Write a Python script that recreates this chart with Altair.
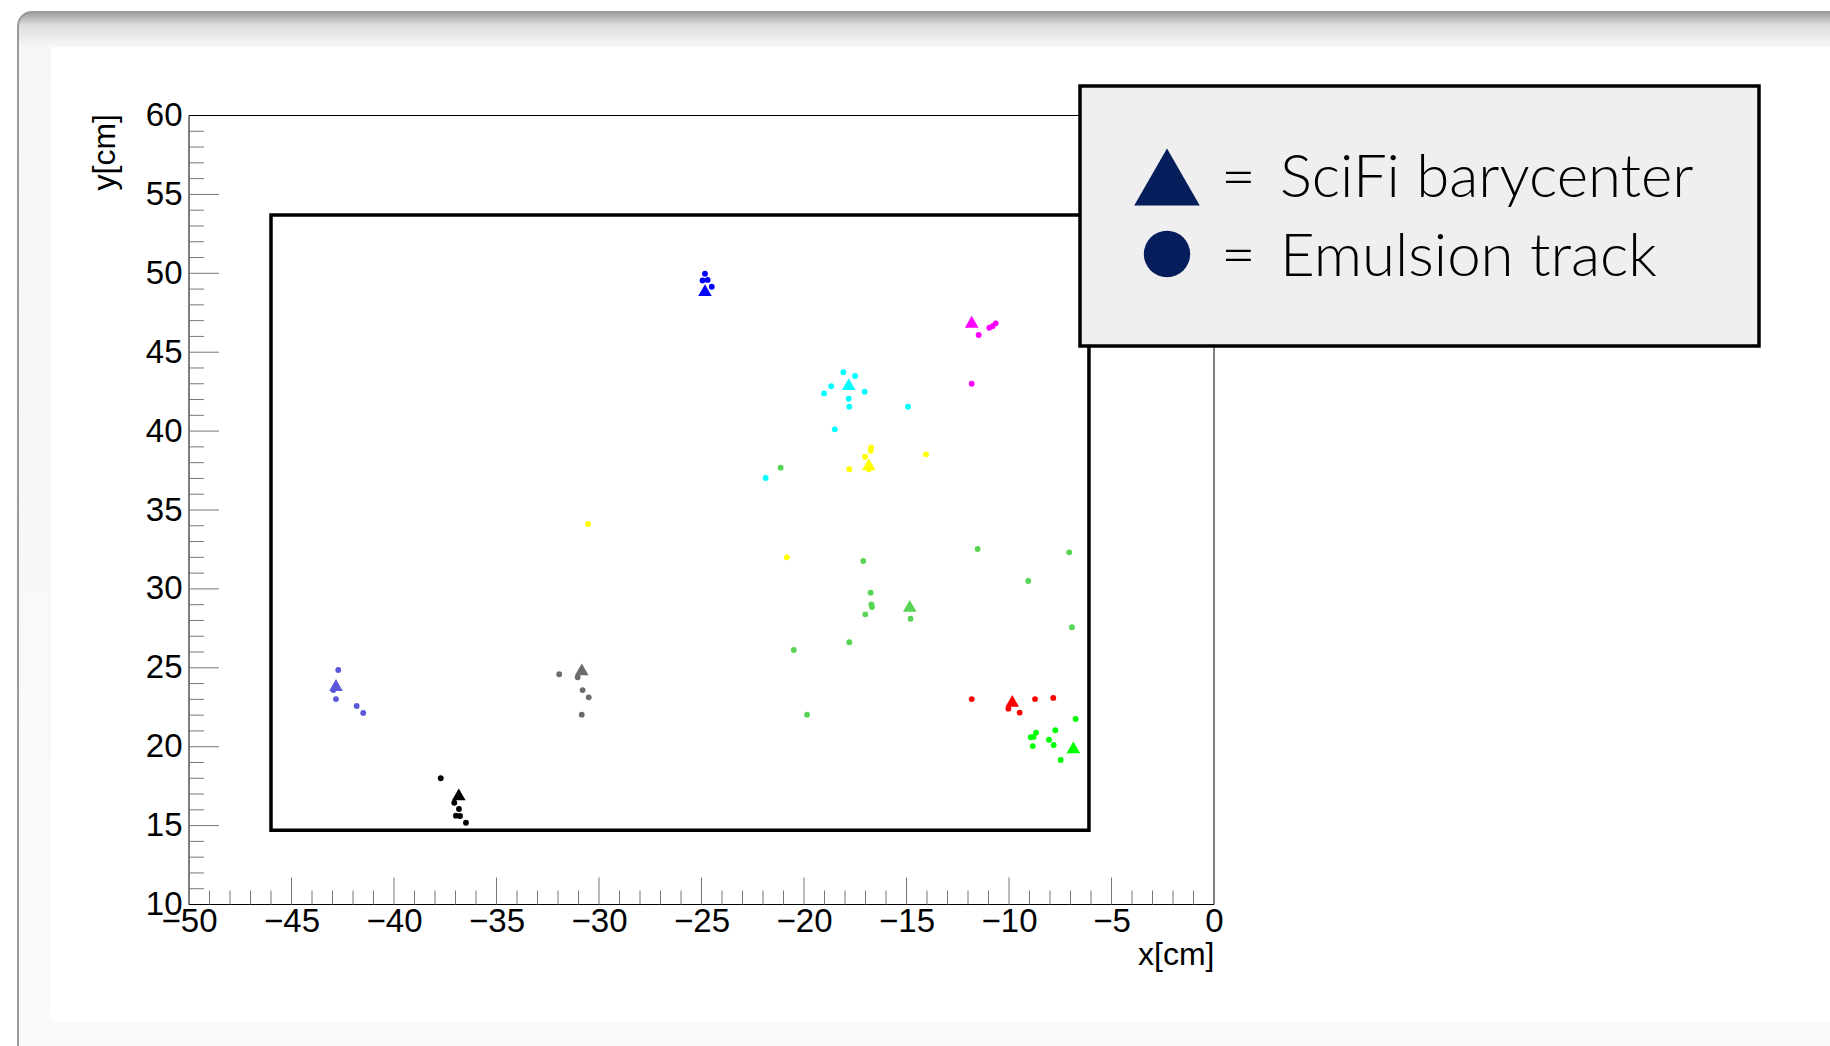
import altair as alt
import pandas as pd

# ---------------- data ----------------
groups = ["slate", "grey", "black", "blue", "magenta", "cyan", "yellow", "green8", "red", "green"]
group_colors = ["#5a58d8", "#6b6b6b", "#000000", "#0000ff", "#ff00ff", "#00ffff",
                "#ffff00", "#58d455", "#ff0000", "#00ff00"]

# SciFi barycenters (triangles)
bary_x = [-42.83, -30.84, -36.84, -24.83, -11.82, -17.82, -16.84, -14.84, -9.84, -6.86]
bary_y = [23.91, 24.90, 16.98, 48.94, 46.93, 42.97, 37.90, 28.92, 22.90, 19.96]

# Emulsion tracks (dots)
track_group = (["slate"] * 5 + ["grey"] * 5 + ["black"] * 6 + ["blue"] * 4 + ["magenta"] * 5
               + ["cyan"] * 10 + ["yellow"] * 8 + ["green8"] * 14 + ["red"] * 5 + ["green"] * 9)
track_x = [-42.72, -42.96, -42.83, -41.82, -41.50,
           -31.94, -31.04, -30.80, -30.50, -30.84,
           -37.72, -37.06, -36.83, -36.98, -36.78, -36.49,
           -24.83, -24.95, -24.70, -24.50,
           -11.48, -10.96, -10.80, -10.65, -11.82,
           -18.08, -17.51, -18.67, -19.02, -17.04, -17.82, -17.79, -14.93, -18.50, -21.87,
           -16.72, -16.75, -17.02, -16.84, -17.79, -14.05, -20.84, -30.53,
           -21.14, -17.11, -11.53, -7.06, -9.06, -16.75, -16.72, -16.68, -17.01, -14.80, -6.93, -17.79, -20.50, -19.85,
           -11.82, -8.73, -7.84, -10.03, -9.48,
           -6.75, -7.74, -8.68, -8.94, -8.80, -8.05, -7.82, -8.84, -7.48]
track_y = [24.86, 23.59, 23.02, 22.58, 22.14,
           24.59, 24.40, 23.59, 23.13, 22.03,
           18.00, 16.45, 16.05, 15.63, 15.61, 15.18,
           49.97, 49.55, 49.58, 49.15,
           46.09, 46.55, 46.65, 46.83, 43.00,
           43.73, 43.49, 42.84, 42.39, 42.50, 42.05, 41.55, 41.55, 40.11, 37.03,
           38.97, 38.76, 38.38, 37.58, 37.58, 38.53, 32.00, 34.11,
           37.68, 31.77, 32.53, 32.32, 30.50, 29.76, 29.02, 28.85, 28.39, 28.11, 27.57, 26.62, 26.13, 22.03,
           23.02, 23.02, 23.09, 22.41, 22.16,
           21.76, 21.04, 20.89, 20.60, 20.62, 20.44, 20.11, 20.04, 19.16]

# Fiducial (black) rectangle
box_x = [-46.0]
box_x2 = [-6.1]
box_y = [14.7]
box_y2 = [53.7]

# Axis ticks
x_major = [-50, -45, -40, -35, -30, -25, -20, -15, -10, -5, 0]
y_major = [10, 15, 20, 25, 30, 35, 40, 45, 50, 55, 60]
x_major_inner = [v for v in x_major if -50 < v < 0]
y_major_inner = [v for v in y_major if 10 < v < 60]
x_minor = [v for v in range(-50, 1) if v % 5 != 0]
y_minor = [v for v in range(10, 61) if v % 5 != 0]

legend_labels = ["SciFi barycenter", "Emulsion track"]

# ---------------- layout ----------------
W, H = 1025, 789
PAD_L, PAD_T = 189, 115.5
FONT = "Liberation Sans"
LEG_FONT = "Lato, Liberation Sans, sans-serif"

xs = alt.Scale(domain=[-50, 0], nice=False, zero=False)
ys = alt.Scale(domain=[10, 60], nice=False, zero=False)
cs = alt.Scale(domain=groups, range=group_colors)

one = pd.DataFrame({"k": [0]})

bary_df = pd.DataFrame({"x": bary_x, "y": bary_y, "group": groups})
track_df = pd.DataFrame({"x": track_x, "y": track_y, "group": track_group})
box_df = pd.DataFrame({"x": box_x, "x2": box_x2, "y": box_y, "y2": box_y2})
frame_df = pd.DataFrame({"x": [-50], "x2": [0], "y": [10], "y2": [60]})

# background window frame
outer = alt.Chart(one).mark_rect(
    fill=alt.Gradient(gradient="linear", x1=0, x2=0, y1=0, y2=1,
                      stops=[alt.GradientStop(color="#9c9c9c", offset=0),
                             alt.GradientStop(color="#dcdcdc", offset=0.012),
                             alt.GradientStop(color="#f6f6f6", offset=0.032),
                             alt.GradientStop(color="#fafafa", offset=1)]),
    stroke="#9a9a9a", strokeWidth=2, cornerRadius=14,
).encode(x=alt.value(18 - PAD_L), x2=alt.value(1830 - PAD_L + 30),
         y=alt.value(12 - PAD_T), y2=alt.value(1046 - PAD_T + 30))

inner = alt.Chart(one).mark_rect(fill="#ffffff").encode(
    x=alt.value(51 - PAD_L), x2=alt.value(1830 - PAD_L + 10),
    y=alt.value(47 - PAD_T), y2=alt.value(1022 - PAD_T))

axis_common = dict(format="d", ticks=False, tickSize=0, domain=False, grid=False,
                   labelFont=FONT, labelFontSize=33, labelColor="#000000", labelFlush=False,
                   titleFont=FONT, titleFontSize=32, titleFontWeight="normal", titleColor="#000000",
                   titleBaseline="alphabetic", titleAlign="right", zindex=1)

frame = alt.Chart(frame_df).mark_rect(fill="#ffffff", stroke="#000000", strokeWidth=1).encode(
    x=alt.X("x:Q", scale=xs, axis=alt.Axis(
        title="x[cm]", values=x_major, labelPadding=1, titleX=W, titleY=60, **axis_common)),
    x2="x2:Q",
    y=alt.Y("y:Q", scale=ys, axis=alt.Axis(
        title="y[cm]", values=y_major, labelPadding=7, titleX=-75, titleY=-2, titleAngle=270,
        **axis_common)),
    y2="y2:Q",
)

box = alt.Chart(box_df).mark_rect(fill=None, fillOpacity=0, stroke="#000000", strokeWidth=3.5).encode(
    x=alt.X("x:Q", scale=xs), x2="x2:Q", y=alt.Y("y:Q", scale=ys), y2="y2:Q")

tick_color = "#777777"
xmaj = alt.Chart(pd.DataFrame({"x": x_major_inner})).mark_rule(color=tick_color, strokeWidth=1).encode(
    x=alt.X("x:Q", scale=xs), y=alt.value(H), y2=alt.value(H - 27))
xmin = alt.Chart(pd.DataFrame({"x": x_minor})).mark_rule(color=tick_color, strokeWidth=1).encode(
    x=alt.X("x:Q", scale=xs), y=alt.value(H), y2=alt.value(H - 14))
ymaj = alt.Chart(pd.DataFrame({"y": y_major_inner})).mark_rule(color=tick_color, strokeWidth=1).encode(
    y=alt.Y("y:Q", scale=ys), x=alt.value(0), x2=alt.value(30))
ymin = alt.Chart(pd.DataFrame({"y": y_minor})).mark_rule(color=tick_color, strokeWidth=1).encode(
    y=alt.Y("y:Q", scale=ys), x=alt.value(0), x2=alt.value(15))

tracks = alt.Chart(track_df).mark_point(shape="circle", filled=True, size=34, opacity=1).encode(
    x=alt.X("x:Q", scale=xs), y=alt.Y("y:Q", scale=ys),
    color=alt.Color("group:N", scale=cs, legend=None))

bary = alt.Chart(bary_df).mark_point(shape="triangle-up", filled=True, size=185, opacity=1).encode(
    x=alt.X("x:Q", scale=xs), y=alt.Y("y:Q", scale=ys),
    color=alt.Color("group:N", scale=cs, legend=None))

# manual legend box
navy = "#061d5c"
leg_box = alt.Chart(one).mark_rect(fill="#efefef", stroke="#000000", strokeWidth=3.5).encode(
    x=alt.value(1080 - PAD_L), x2=alt.value(1759 - PAD_L),
    y=alt.value(86 - PAD_T), y2=alt.value(346 - PAD_T))
leg_tri = alt.Chart(one).mark_point(shape="triangle-up", filled=True, size=4300, color=navy, opacity=1).encode(
    x=alt.value(1167 - PAD_L), y=alt.value(177 - PAD_T))
leg_dot = alt.Chart(one).mark_point(shape="circle", filled=True, size=2150, color=navy, opacity=1).encode(
    x=alt.value(1167 - PAD_L), y=alt.value(254 - PAD_T))
text_style = dict(font=LEG_FONT, fontWeight=300, align="left", baseline="alphabetic", color="#000000")
eq1 = alt.Chart(one).mark_text(text="=", fontSize=60, **text_style).encode(
    x=alt.value(1221 - PAD_L), y=alt.value(197 - PAD_T))
eq2 = alt.Chart(one).mark_text(text="=", fontSize=60, **text_style).encode(
    x=alt.value(1221 - PAD_L), y=alt.value(275 - PAD_T))
lab1 = alt.Chart(one).mark_text(text=legend_labels[0], fontSize=60, **text_style).encode(
    x=alt.value(1280 - PAD_L), y=alt.value(197 - PAD_T))
lab2 = alt.Chart(one).mark_text(text=legend_labels[1], fontSize=60, **text_style).encode(
    x=alt.value(1280 - PAD_L), y=alt.value(276 - PAD_T))

chart = alt.layer(
    outer, inner, frame, box, xmaj, xmin, ymaj, ymin, tracks, bary,
    leg_box, leg_tri, leg_dot, eq1, eq2, lab1, lab2
).properties(
    width=W, height=H,
    autosize=alt.AutoSizeParams(type="none"),
    padding={"left": PAD_L, "top": PAD_T, "right": 1830 - PAD_L - W, "bottom": 1046 - PAD_T - H},
    background="#ffffff",
).configure_view(stroke=None)

chart.save("out.html", embed_options={"renderer": "svg", "actions": False})
